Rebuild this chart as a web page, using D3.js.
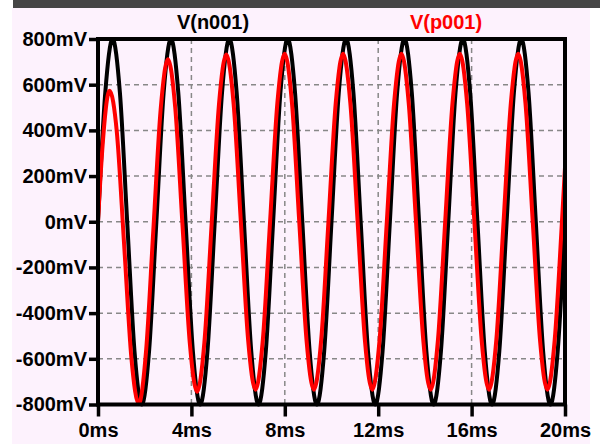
<!DOCTYPE html>
<meta http-equiv="content-type" content="text/html; charset=utf-8">

<style>
body {
  margin: 0;
  background: #ffffff;
}
svg {
  display: block;
}
.tick-label {
  font-family: "Liberation Sans", Arial, sans-serif;
  font-weight: bold;
  font-size: 20px;
}
.grid line {
  stroke: #888888;
  stroke-width: 1.5;
  stroke-dasharray: 5,4;
}
.trace {
  fill: none;
  stroke-width: 4;
  stroke-linejoin: round;
}
</style>

<body>
<div id="area1"></div>

<script src="https://cdn.jsdelivr.net/npm/d3@7"></script>
<script>
// tick values (ms and mV)
var xTicks = [0, 4, 8, 12, 16, 20];
var yTicks = [800, 600, 400, 200, 0, -200, -400, -600, -800];
var xGrid = [4, 8, 12, 16];
var yGrid = [600, 400, 200, 0, -200, -400, -600];

// V(n001)
var nTime = [0, 0.3125, 0.625, 0.9375, 1.25, 1.5625, 1.875, 2.1875,
  2.5, 2.8125, 3.125, 3.4375, 3.75, 4.0625, 4.375, 4.6875,
  5, 5.3125, 5.625, 5.9375, 6.25, 6.5625, 6.875, 7.1875,
  7.5, 7.8125, 8.125, 8.4375, 8.75, 9.0625, 9.375, 9.6875,
  10, 10.3125, 10.625, 10.9375, 11.25, 11.5625, 11.875, 12.1875,
  12.5, 12.8125, 13.125, 13.4375, 13.75, 14.0625, 14.375, 14.6875,
  15, 15.3125, 15.625, 15.9375, 16.25, 16.5625, 16.875, 17.1875,
  17.5, 17.8125, 18.125, 18.4375, 18.75, 19.0625, 19.375, 19.6875,
  20];
var nVolt = [0, 566, 800, 566, 0, -566, -800, -566,
  0, 566, 800, 566, 0, -566, -800, -566,
  0, 566, 800, 566, 0, -566, -800, -566,
  0, 566, 800, 566, 0, -566, -800, -566,
  0, 566, 800, 566, 0, -566, -800, -566,
  0, 566, 800, 566, 0, -566, -800, -566,
  0, 566, 800, 566, 0, -566, -800, -566,
  0, 566, 800, 566, 0, -566, -800, -566,
  0];

// V(p001)
var pTime = [0, 0.182, 0.494, 0.807, 1.119, 1.432, 1.744, 2.057,
  2.369, 2.682, 2.994, 3.307, 3.619, 3.932, 4.244, 4.557,
  4.869, 5.182, 5.494, 5.807, 6.119, 6.432, 6.744, 7.057,
  7.369, 7.682, 7.994, 8.307, 8.619, 8.932, 9.244, 9.557,
  9.869, 10.182, 10.494, 10.807, 11.119, 11.432, 11.744, 12.057,
  12.369, 12.682, 12.994, 13.307, 13.619, 13.932, 14.244, 14.557,
  14.869, 15.182, 15.494, 15.807, 16.119, 16.432, 16.744, 17.057,
  17.369, 17.682, 17.994, 18.307, 18.619, 18.932, 19.244, 19.557,
  19.869, 20];
var pVolt = [0, 314, 573, 392, -100, -598, -797, -568,
  -38, 490, 711, 501, -15, -531, -744, -527,
  -6, 515, 732, 517, -2, -520, -735, -520,
  0, 520, 735, 520, 0, -520, -735, -520,
  0, 520, 735, 520, 0, -520, -735, -520,
  0, 520, 735, 520, 0, -520, -735, -520,
  0, 520, 735, 520, 0, -520, -735, -520,
  0, 520, 735, 520, 0, -520, -735, -520,
  0, 237];

var width = 600, height = 444;
var padL = 98, padR = 565, padT = 39, padB = 404.5;

var svg = d3.select("#area1").append("svg")
    .attr("width", width)
    .attr("height", height);

// pink screen area and the dark strip above it
svg.append("rect")
    .attr("x", 12).attr("y", 8)
    .attr("width", 578).attr("height", height - 8)
    .attr("fill", "#fdf2fd");
svg.append("rect")
    .attr("x", 13).attr("y", 0)
    .attr("width", width - 13).attr("height", 8)
    .attr("fill", "#454545");

var x = d3.scaleLinear()
    .domain([0, 20])
    .range([padL, padR]);

var y = d3.scaleLinear()
    .domain([-800, 800])
    .range([padB, padT]);

var grid = svg.append("g").attr("class", "grid");
grid.selectAll(".hg")
  .data(yGrid)
  .enter().append("line")
    .attr("class", "hg")
    .attr("x1", padL).attr("x2", padR)
    .attr("y1", function(d) { return y(d); })
    .attr("y2", function(d) { return y(d); });
grid.selectAll(".vg")
  .data(xGrid)
  .enter().append("line")
    .attr("class", "vg")
    .attr("y1", padT).attr("y2", padB)
    .attr("x1", function(d) { return x(d); })
    .attr("x2", function(d) { return x(d); });

var line = d3.line()
    .x(function(d) { return x(d[0]); })
    .y(function(d) { return y(d[1]); })
    .curve(d3.curveMonotoneX);

svg.append("path")
    .attr("class", "trace")
    .attr("stroke", "#000000")
    .attr("d", line(d3.zip(nTime, nVolt)));

svg.append("path")
    .attr("class", "trace")
    .attr("stroke", "#ff0000")
    .attr("d", line(d3.zip(pTime, pVolt)));

// frame
svg.append("rect")
    .attr("x", padL).attr("y", padT)
    .attr("width", padR - padL).attr("height", padB - padT)
    .attr("fill", "none")
    .attr("stroke", "#000")
    .attr("stroke-width", 4);

var yAxis = svg.append("g")
    .attr("transform", "translate(" + padL + ",0)")
    .call(d3.axisLeft(y)
      .tickValues(yTicks)
      .tickSize(9)
      .tickPadding(2)
      .tickFormat(function(d) { return d + "mV"; }));

var xAxis = svg.append("g")
    .attr("transform", "translate(0," + padB + ")")
    .call(d3.axisBottom(x)
      .tickValues(xTicks)
      .tickSize(12)
      .tickPadding(6)
      .tickFormat(function(d) { return d + "ms"; }));

[yAxis, xAxis].forEach(function(a) {
  a.select(".domain").remove();
  a.selectAll(".tick line")
    .attr("stroke", "#000")
    .attr("stroke-width", 3.5);
  a.selectAll(".tick text")
    .attr("class", "tick-label")
    .attr("fill", "#000");
});
yAxis.attr("font-size", null).attr("font-family", null);
xAxis.attr("font-size", null).attr("font-family", null);

svg.append("text")
    .attr("class", "tick-label")
    .attr("x", 213).attr("y", 29)
    .attr("text-anchor", "middle")
    .attr("fill", "#000")
    .text("V(n001)");

svg.append("text")
    .attr("class", "tick-label")
    .attr("x", 446).attr("y", 29)
    .attr("text-anchor", "middle")
    .attr("fill", "#ff0000")
    .text("V(p001)");
</script>
</body>
</html>
